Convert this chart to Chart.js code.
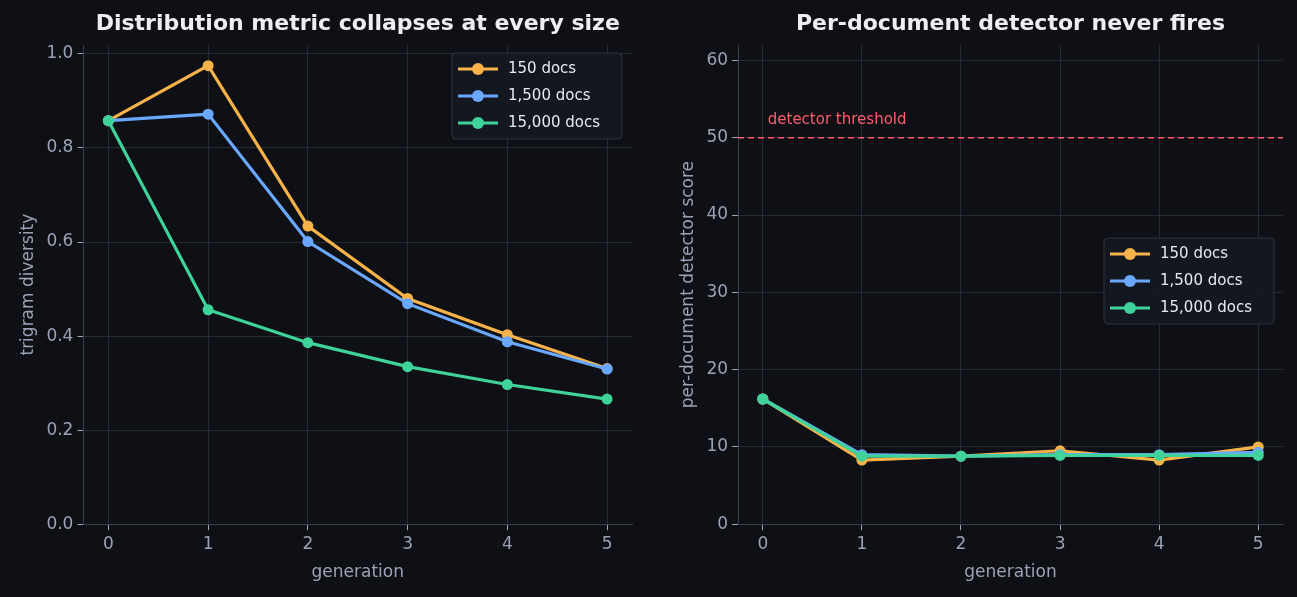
<!DOCTYPE html>
<html><head><meta charset="utf-8">
<script src="https://cdn.jsdelivr.net/npm/chart.js@4"></script>
<style>
  body{margin:0;background:#0e1015;width:1297px;height:597px;overflow:hidden;font-family:"DejaVu Sans",sans-serif}
  .box{position:absolute;top:0;height:597px}
</style></head><body>
<div class="box" style="left:0;width:650px"><canvas id="c1"></canvas></div>
<div class="box" style="left:650px;width:647px"><canvas id="c2"></canvas></div>
<script>
  const GENERATIONS = [0, 1, 2, 3, 4, 5];
  const SERIES = ['150 docs', '1,500 docs', '15,000 docs'];
  const COLORS = ['#f7b24a', '#6aa8ff', '#3fd39a'];
  const DIVERSITY = [
    [0.858, 0.975, 0.634, 0.480, 0.403, 0.331],
    [0.858, 0.872, 0.601, 0.469, 0.388, 0.330],
    [0.858, 0.456, 0.386, 0.335, 0.297, 0.266]
  ];
  const DETECTOR = [
    [16.2, 8.3, 8.8, 9.5, 8.3, 10.0],
    [16.2, 9.0, 8.8, 9.0, 9.0, 9.3],
    [16.2, 8.8, 8.8, 8.9, 8.9, 8.9]
  ];
  const THRESHOLD = 50;

  const GRID = '#262a35', TXT = '#9aa3b5', FONT = "'DejaVu Sans', sans-serif";

  function datasets(vals) {
    return SERIES.map((s, i) => ({
      label: s, order: 3 - i,
      data: GENERATIONS.map((g, j) => ({ x: g, y: vals[i][j] })),
      borderColor: COLORS[i], backgroundColor: COLORS[i],
      borderWidth: 3.2, pointRadius: 5.5, pointHoverRadius: 5.5, pointBorderWidth: 0
    }));
  }

  // title centred over the plot area
  function titlePlugin(text) {
    return {
      id: 'plotTitle',
      afterDraw(chart) {
        const { ctx, chartArea } = chart;
        ctx.save();
        ctx.fillStyle = '#eceef3';
        ctx.font = 'bold 22px ' + FONT;
        ctx.textAlign = 'center'; ctx.textBaseline = 'middle';
        ctx.fillText(text, (chartArea.left + chartArea.right) / 2, 24);
        ctx.restore();
      }
    };
  }

  // legend box drawn inside the plot area
  function legendPlugin(px, py) {
    return {
      id: 'boxLegend',
      afterDraw(chart) {
        const { ctx } = chart;
        const w = 170, h = 86;
        ctx.save();
        ctx.fillStyle = 'rgba(20,24,33,0.9)';
        ctx.strokeStyle = '#2e3340';
        ctx.lineWidth = 1;
        ctx.beginPath();
        ctx.roundRect(px, py, w, h, 4);
        ctx.fill(); ctx.stroke();
        ctx.font = '15px ' + FONT;
        ctx.textBaseline = 'middle';
        SERIES.forEach((s, i) => {
          const y = py + 16 + i * 27;
          ctx.strokeStyle = COLORS[i]; ctx.lineWidth = 3;
          ctx.beginPath(); ctx.moveTo(px + 6, y); ctx.lineTo(px + 46, y); ctx.stroke();
          ctx.fillStyle = COLORS[i];
          ctx.beginPath(); ctx.arc(px + 26, y, 6, 0, Math.PI * 2); ctx.fill();
          ctx.fillStyle = '#e8eaf0';
          ctx.fillText(s, px + 56, y);
        });
        ctx.restore();
      }
    };
  }

  const thresholdPlugin = {
    id: 'threshold',
    afterDatasetsDraw(chart) {
      const { ctx, chartArea, scales } = chart;
      const y = scales.y.getPixelForValue(THRESHOLD);
      ctx.save();
      ctx.strokeStyle = '#ff5c6c'; ctx.lineWidth = 1.5;
      ctx.setLineDash([6, 4]);
      ctx.beginPath(); ctx.moveTo(chartArea.left, y); ctx.lineTo(chartArea.right, y); ctx.stroke();
      ctx.setLineDash([]);
      ctx.fillStyle = '#ff5c6c'; ctx.font = '15px ' + FONT;
      ctx.textBaseline = 'bottom';
      ctx.fillText('detector threshold', scales.x.getPixelForValue(0.05), y - 10);
      ctx.restore();
    }
  };

  function options(yTitle, yMax, yStep, fmt, padLeft, padRight) {
    return {
      responsive: false, animation: false,
      layout: { padding: { left: padLeft, right: padRight, bottom: 10, top: 45 } },
      plugins: { legend: { display: false }, tooltip: { enabled: false } },
      scales: {
        x: {
          type: 'linear', min: -0.25, max: 5.25,
          afterBuildTicks: ax => { ax.ticks = GENERATIONS.map(v => ({ value: v })); },
          grid: { color: GRID, tickColor: TXT, tickLength: 6 },
          border: { color: '#3a3f4b' },
          ticks: { color: TXT, font: { family: FONT, size: 17 }, padding: 4 },
          title: { display: true, text: 'generation', color: TXT, font: { family: FONT, size: 17 } }
        },
        y: {
          min: 0, max: yMax,
          afterBuildTicks: ax => {
            const t = []; for (let v = 0; v <= yMax + 1e-9; v += yStep) t.push({ value: +v.toFixed(4) });
            ax.ticks = t;
          },
          grid: { color: GRID, tickColor: TXT, tickLength: 6 },
          border: { color: '#3a3f4b' },
          ticks: { color: TXT, font: { family: FONT, size: 17 }, padding: 4, callback: fmt },
          title: { display: true, text: yTitle, color: TXT, font: { family: FONT, size: 17 } }
        }
      }
    };
  }

  function setSize(id, w) { const c = document.getElementById(id); c.width = w; c.height = 597; c.style.width = w + 'px'; c.style.height = '597px'; return c; }

  new Chart(setSize('c1', 650), {
    type: 'line', data: { datasets: datasets(DIVERSITY) },
    options: options('trigram diversity', 1.019, 0.2, v => v.toFixed(1), 14, 18),
    plugins: [titlePlugin('Distribution metric collapses at every size'), legendPlugin(452, 53)]
  });
  new Chart(setSize('c2', 647), {
    type: 'line', data: { datasets: datasets(DETECTOR) },
    options: options('per-document detector score', 62, 10, v => String(v), 24, 14),
    plugins: [thresholdPlugin, titlePlugin('Per-document detector never fires'), legendPlugin(454, 238)]
  });
</script>
</body></html>
